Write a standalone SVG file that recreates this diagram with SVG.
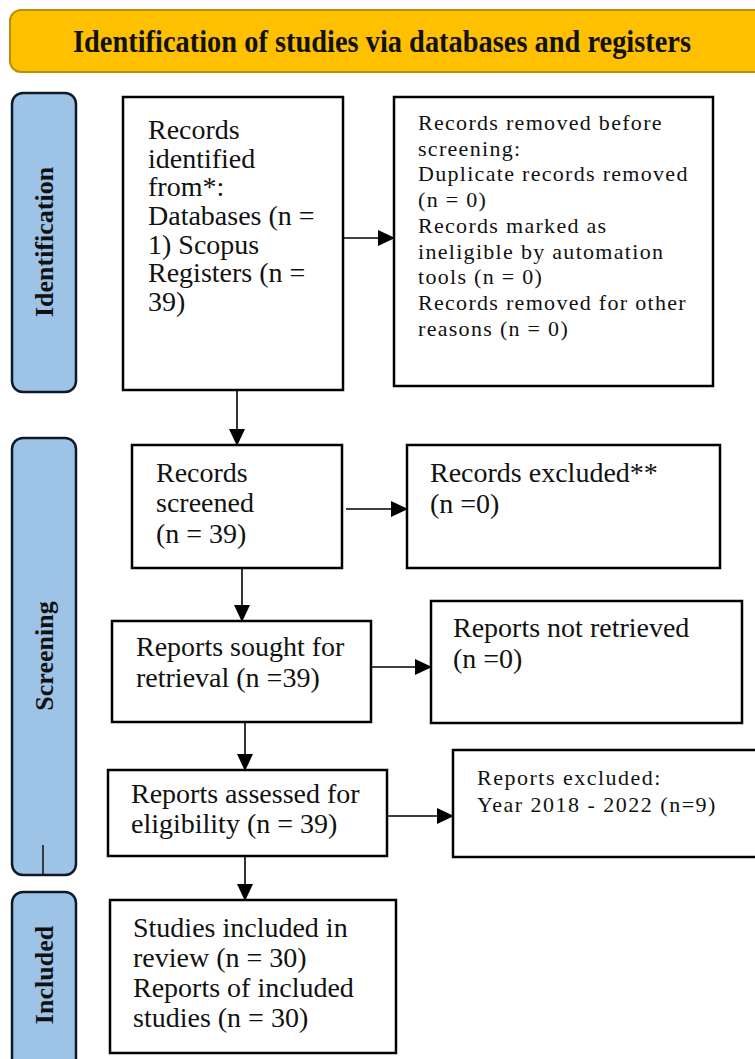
<svg xmlns="http://www.w3.org/2000/svg" width="755" height="1059" viewBox="0 0 755 1059">
<defs>
<style>
.box{fill:#fff;stroke:#000;stroke-width:2.5}
.side{fill:#9DC3E6;stroke:#111827;stroke-width:2.5}
.t{font-family:"Liberation Serif","Times New Roman",serif;font-size:28px;fill:#111}
.s{font-family:"Liberation Serif","Times New Roman",serif;font-size:22px;letter-spacing:1.3px;fill:#111}
.lab{font-family:"Liberation Serif","Times New Roman",serif;font-size:26px;font-weight:bold;fill:#111;text-anchor:middle}
.c{stroke:#000;stroke-width:1.6;fill:none;marker-end:url(#ah)}
</style>
<marker id="ah" markerUnits="userSpaceOnUse" markerWidth="17" markerHeight="16" refX="16" refY="8" orient="auto">
<path d="M0,0 L17,8 L0,16 Z" fill="#000"/>
</marker>
</defs>
<g id="header">
<rect x="10" y="10" width="770" height="62" rx="11" fill="#FFC000" stroke="#B8900A" stroke-width="2"/>
<text x="382" y="52" font-family="'Liberation Serif','Times New Roman',serif" font-size="31" font-weight="bold" fill="#111" text-anchor="middle" textLength="618" lengthAdjust="spacingAndGlyphs">Identification of studies via databases and registers</text>
</g>
<g id="side-identification">
<rect class="side" x="12" y="93" width="64" height="299" rx="11"/>
<text class="lab" transform="translate(53,242) rotate(-90)">Identification</text>
</g>
<g id="side-screening">
<rect class="side" x="12" y="438" width="64" height="437" rx="11"/>
<line x1="43" y1="845" x2="43" y2="875" stroke="#111" stroke-width="1.5"/>
<text class="lab" transform="translate(53,656) rotate(-90)">Screening</text>
</g>
<g id="side-included">
<rect class="side" x="12" y="892" width="64" height="190" rx="11"/>
<text class="lab" transform="translate(53,975) rotate(-90)">Included</text>
</g>
<g id="n-identified">
<rect class="box" x="123" y="97" width="220" height="293"/>
<text class="t"><tspan x="148" y="139">Records</tspan><tspan x="148" y="168">identified</tspan><tspan x="148" y="196">from*:</tspan><tspan x="148" y="225">Databases (n =</tspan><tspan x="148" y="254">1) Scopus</tspan><tspan x="148" y="282">Registers (n =</tspan><tspan x="148" y="311">39)</tspan></text>
</g>
<g id="n-removed">
<rect class="box" x="394" y="97" width="319" height="289"/>
<text class="s"><tspan x="418" y="130">Records removed before</tspan><tspan x="418" y="156">screening:</tspan><tspan x="418" y="181">Duplicate records removed</tspan><tspan x="418" y="207">(n = 0)</tspan><tspan x="418" y="233">Records marked as</tspan><tspan x="418" y="259">ineligible  by automation</tspan><tspan x="418" y="284">tools (n = 0)</tspan><tspan x="418" y="310">Records removed for other</tspan><tspan x="418" y="336">reasons (n = 0)</tspan></text>
</g>
<g id="n-screened">
<rect class="box" x="132" y="445" width="210" height="123"/>
<text class="t"><tspan x="156" y="482">Records</tspan><tspan x="156" y="512">screened</tspan><tspan x="156" y="543">(n = 39)</tspan></text>
</g>
<g id="n-excluded">
<rect class="box" x="407" y="445" width="313" height="123"/>
<text class="t"><tspan x="430" y="482">Records excluded**</tspan><tspan x="430" y="513">(n =0)</tspan></text>
</g>
<g id="n-sought">
<rect class="box" x="112" y="621" width="259" height="101"/>
<text class="t"><tspan x="136" y="656">Reports sought for</tspan><tspan x="136" y="687">retrieval (n =39)</tspan></text>
</g>
<g id="n-notretrieved">
<rect class="box" x="431" y="601" width="311" height="122"/>
<text class="t"><tspan x="453" y="637">Reports not retrieved</tspan><tspan x="453" y="668">(n =0)</tspan></text>
</g>
<g id="n-assessed">
<rect class="box" x="108" y="770" width="279" height="86"/>
<text class="t"><tspan x="131" y="803">Reports assessed for</tspan><tspan x="131" y="833">eligibility (n = 39)</tspan></text>
</g>
<g id="n-reportsexcluded">
<rect class="box" x="453" y="750" width="320" height="107"/>
<text class="s" style="letter-spacing:1.5px"><tspan x="477" y="785">Reports excluded:</tspan><tspan x="477" y="812">Year 2018 - 2022 (n=9)</tspan></text>
</g>
<g id="n-included">
<rect class="box" x="110" y="900" width="286" height="153"/>
<text class="t"><tspan x="133" y="937">Studies included in</tspan><tspan x="133" y="967">review (n = 30)</tspan><tspan x="133" y="997">Reports of included</tspan><tspan x="133" y="1027">studies (n = 30)</tspan></text>
</g>
<g id="connectors">
<line class="c" x1="343" y1="238" x2="394" y2="238"/>
<line class="c" x1="237" y1="390" x2="237" y2="445"/>
<line class="c" x1="346" y1="509" x2="407" y2="509"/>
<line class="c" x1="242" y1="568" x2="242" y2="621"/>
<line class="c" x1="371" y1="667" x2="431" y2="667"/>
<line class="c" x1="245" y1="722" x2="245" y2="770"/>
<line class="c" x1="387" y1="816" x2="453" y2="816"/>
<line class="c" x1="245" y1="856" x2="245" y2="900"/>
</g>
</svg>
